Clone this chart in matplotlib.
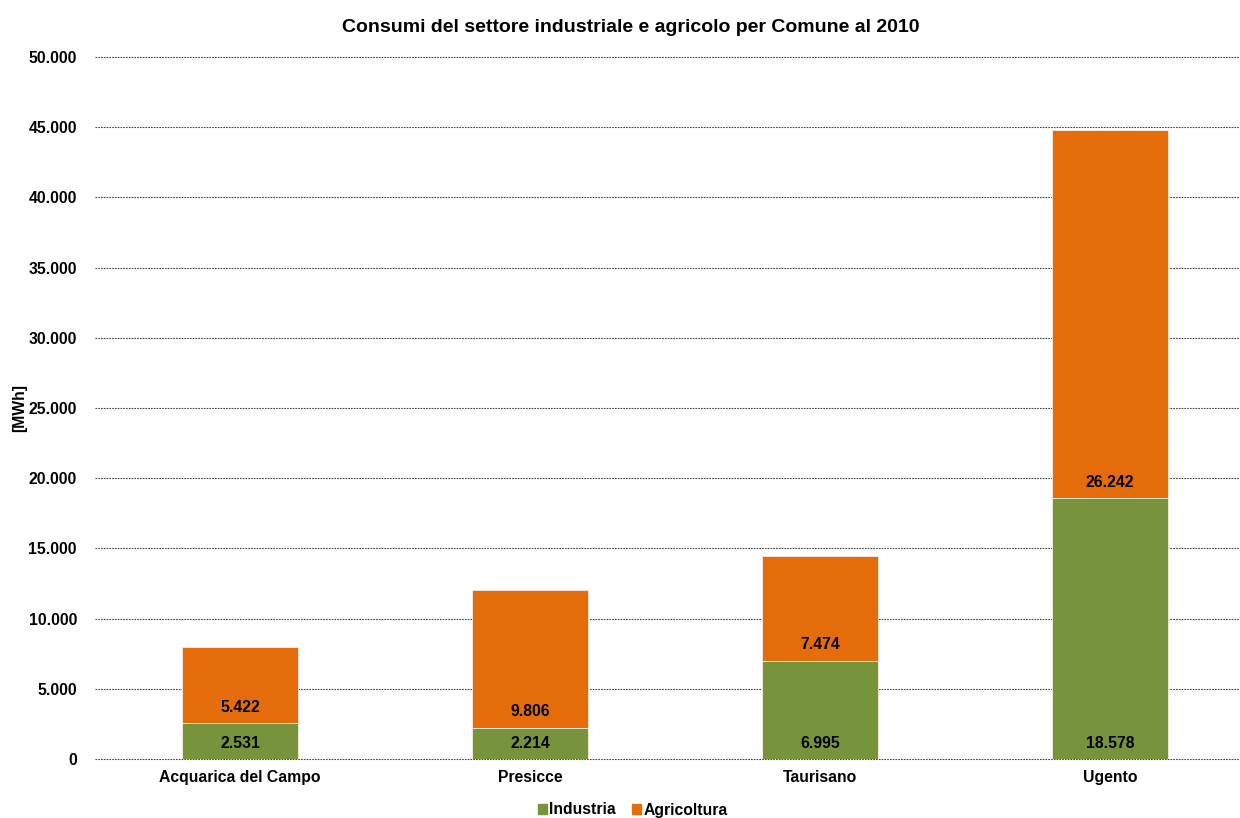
import matplotlib
matplotlib.use("Agg")
import matplotlib.pyplot as plt
from matplotlib.ticker import FuncFormatter, MultipleLocator
from matplotlib.patches import Patch
from matplotlib.transforms import offset_copy

plt.rcParams['font.family'] = ['Liberation Sans', 'DejaVu Sans']
plt.rcParams['font.weight'] = 'bold'

comuni = ["Acquarica del Campo", "Presicce", "Taurisano", "Ugento"]
industria = [2531, 2214, 6995, 18578]
agricoltura = [5422, 9806, 7474, 26242]

col_ind = "#77933C"
col_agr = "#E46C0A"
FS = 11.3

W, H = 1240, 818
fig = plt.figure(figsize=(W / 100, H / 100), dpi=100)
ax = fig.add_axes([95 / W, 1 - 759 / H, 1160 / W, (759 - 57) / H])

x = list(range(len(comuni)))
ax.bar(x, industria, width=0.4, color=col_ind, edgecolor="#f4e6d8", linewidth=0.7, zorder=3)
ax.bar(x, agricoltura, width=0.4, bottom=industria, color=col_agr, edgecolor="#f4e6d8", linewidth=0.7, zorder=3)

def fmt(v):
    return f"{v:,.0f}".replace(",", ".")

# value labels sit just above the base of each segment
for xi, vi, va in zip(x, industria, agricoltura):
    ax.text(xi, 0, fmt(vi), transform=offset_copy(ax.transData, fig=fig, x=0, y=11.5, units='points'),
            ha="center", va="center", fontsize=FS, fontweight="bold", zorder=4)
    ax.text(xi, vi, fmt(va), transform=offset_copy(ax.transData, fig=fig, x=0, y=11.5, units='points'),
            ha="center", va="center", fontsize=FS, fontweight="bold", zorder=4)

ax.set_xlim(-0.5, 3.5)
ax.set_ylim(0, 50000)
ax.yaxis.set_major_locator(MultipleLocator(5000))
ax.yaxis.set_major_formatter(FuncFormatter(lambda v, p: fmt(v)))
ax.grid(axis="y", linestyle=(0, (1.5, 1)), color="#444444", linewidth=0.8, zorder=0)
for gl in ax.get_ygridlines():
    gl.set_clip_on(False)
for s in ax.spines.values():
    s.set_visible(False)
ax.tick_params(axis="both", length=0, labelsize=FS)
ax.tick_params(axis="y", pad=13)
ax.tick_params(axis="x", pad=8)
ax.set_xticks(x)
ax.set_xticklabels(comuni, fontweight="bold")
for lab in ax.get_yticklabels():
    lab.set_fontweight("bold")

fig.text(20 / W, 1 - 408 / H, "[MWh]", rotation=90, ha="center", va="center",
         fontsize=FS, fontweight="bold")
fig.text(631 / W, 1 - 27 / H, "Consumi del settore industriale e agricolo per Comune al 2010",
         ha="center", va="center", fontsize=14, fontweight="bold")

handles = [Patch(color=col_ind, label="Industria"), Patch(color=col_agr, label="Agricoltura")]
fig.legend(handles=handles, loc="center", bbox_to_anchor=(633 / W, 1 - 810 / H), ncol=2,
           frameon=False, handlelength=0.55, handleheight=0.55,
           handletextpad=0.15, columnspacing=1.05, prop={'weight': 'bold', 'size': FS})

fig.savefig("out.png", dpi=100)
